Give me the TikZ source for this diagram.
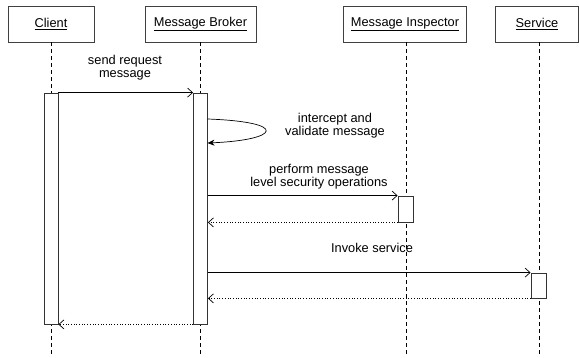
\documentclass[tikz,border=0pt]{standalone}
\usepackage{fontspec}
\setmainfont{Liberation Sans}
\usetikzlibrary{arrows.meta}
\begin{document}
\begin{tikzpicture}[x=1pt,y=-1pt,
  font=\fontsize{12.8}{13}\selectfont,
  actor/.style={draw=black!75, line width=0.8pt, fill=white, minimum width=#1, minimum height=36pt, inner sep=0pt},
  lifeline/.style={dash pattern=on 4pt off 3pt, line width=0.7pt},
  actbar/.style={draw=black!80, line width=0.8pt, fill=white},
  call/.style={line width=0.7pt, -{Straight Barb[length=5pt,width=9pt]}},
  reply/.style={dotted, line width=0.7pt, -{Straight Barb[length=5pt,width=9pt]}},
  msg/.style={align=center, inner sep=0pt}]
\useasboundingbox (0,0) rectangle (579,358);

% participants
\node[actor=86pt]  (client)    at (51,24)    {\underline{Client}};
\node[actor=111pt] (broker)    at (200.5,24) {\underline{Message Broker}};
\node[actor=123pt] (inspector) at (405,24)   {\underline{Message Inspector}};
\node[actor=83pt]  (service)   at (537,24)   {\underline{Service}};

% lifeline ends
\coordinate (clientEnd)    at (51,355);
\coordinate (brokerEnd)    at (200.5,355);
\coordinate (inspectorEnd) at (406,355);
\coordinate (serviceEnd)   at (539,355);

\draw[lifeline] (client.south -| clientEnd) -- (clientEnd);
\draw[lifeline] (broker.south -| brokerEnd) -- (brokerEnd);
\draw[lifeline] (inspector.south -| inspectorEnd) -- (inspectorEnd);
\draw[lifeline] (service.south -| serviceEnd) -- (serviceEnd);

% activation bars
\node[actbar, minimum width=14pt, minimum height=231pt, inner sep=0pt] (clientAct) at (51,208.5) {};
\node[actbar, minimum width=14pt, minimum height=231pt, inner sep=0pt] (brokerAct) at (200.5,208.5) {};
\node[actbar, minimum width=15pt, minimum height=26pt, inner sep=0pt] (inspectorAct) at (405.5,209) {};
\node[actbar, minimum width=15pt, minimum height=25pt, inner sep=0pt] (serviceAct) at (538.5,285.5) {};

% send request
\draw[call] (clientAct.north east) -- (brokerAct.north west);
\node[msg] (sendLbl) at (125,68) {send request\\message};

% intercept and validate (self call)
\coordinate (selfOut) at (207.5,119);
\coordinate (selfIn)  at (207.5,143);
\draw[line width=0.7pt, -{Stealth[length=7pt,width=6pt]}] (selfOut) .. controls (290,122) and (280,140) .. (selfIn);
\node[msg] (selfLbl) at (335,126) {intercept and\\validate message};

% security operations
\draw[call] (brokerAct.east |- inspectorAct.north west) -- (inspectorAct.north west);
\node[msg] (secLbl) at (319,177) {perform message\\level security operations};
\draw[reply] (inspectorAct.south west) -- (brokerAct.east |- inspectorAct.south west);

% invoke service
\draw[call] (brokerAct.east |- serviceAct.north west) -- (serviceAct.north west);
\node[msg] (invLbl) at (372,248) {Invoke service};
\draw[reply] (serviceAct.south west) -- (brokerAct.east |- serviceAct.south west);

% final reply
\draw[reply] (brokerAct.south west) -- (clientAct.south east);
\end{tikzpicture}
\end{document}
